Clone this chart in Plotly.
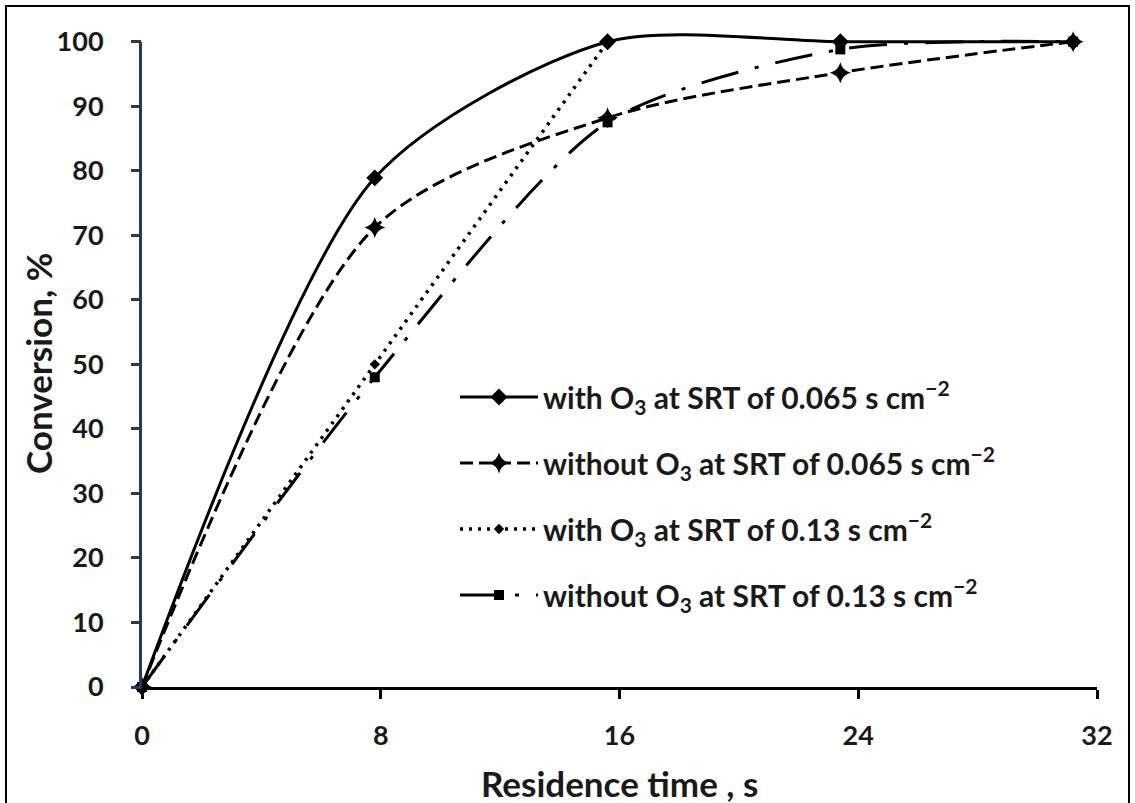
import plotly.graph_objects as go

# ---- data ----
time_s = [0, 7.8, 15.6, 23.4, 31.2]
with_o3_0065 = [0, 78.9, 100, 100, 100]
without_o3_0065 = [0, 71.2, 88.2, 95.2, 100]
with_o3_013 = [0, 50.0, 100]          # later points hidden under the solid line
without_o3_013 = [0, 48.0, 87.5, 98.8, 100]

series_names = [
    "with O<sub>3</sub> at SRT of 0.065 s cm<sup>−2</sup>",
    "without O<sub>3</sub> at SRT of 0.065 s cm<sup>−2</sup>",
    "with O<sub>3</sub> at SRT of 0.13 s cm<sup>−2</sup>",
    "without O<sub>3</sub> at SRT of 0.13 s cm<sup>−2</sup>",
]
x_ticks = [0, 8, 16, 24, 32]
y_ticks = [0, 10, 20, 30, 40, 50, 60, 70, 80, 90, 100]
x_title = "Residence time , s"
y_title = "Conversion, %"

FONT = "Lato"
TXT = "#1a1a1a"
W, H = 1135, 803
ML, MR, MT, MB = 142, 38, 32, 116
Y_MAX = 101.5

styles = [
    dict(dash="solid", width=3, symbol="diamond", size=13, smooth=0.78),
    dict(dash="13px,6px", width=3, symbol="star-diamond", size=15, smooth=0.85),
    dict(dash="3px,6px", width=3.5, symbol="diamond", size=8, smooth=0.8),
    dict(dash="38px,17px,4px,17px", width=3, symbol="square", size=10, smooth=0.75),
]
ys = [with_o3_0065, without_o3_0065, with_o3_013, without_o3_013]

fig = go.Figure()
for i in [3, 2, 1, 0]:
    st = styles[i]
    fig.add_trace(go.Scatter(
        x=time_s[:len(ys[i])], y=ys[i], name=series_names[i],
        mode="lines+markers",
        line=dict(color="black", width=st["width"], dash=st["dash"],
                  shape="spline", smoothing=st["smooth"]),
        marker=dict(symbol=st["symbol"], size=st["size"], color="black"),
        cliponaxis=False,
        legendrank=i + 1,
        legendgroup=f"g{i}",
    ))


def px_x(p):
    return (p - ML) / (W - ML - MR)


def px_y(p):
    return (H - MB - p) / (H - MT - MB)


# border around the whole picture
fig.add_shape(type="rect", xref="paper", yref="paper",
              x0=px_x(6), x1=px_x(1129), y0=px_y(812), y1=px_y(6),
              line=dict(color="black", width=2), layer="below")

# y axis line, ending at the 100 tick
fig.add_shape(type="line", xref="paper", yref="paper",
              x0=px_x(ML - 1.5), x1=px_x(ML - 1.5),
              y0=px_y(H - MB + 1.5), y1=100 / Y_MAX,
              line=dict(color="#27395a", width=3))

# axis titles
fig.add_annotation(text=x_title, xref="paper", yref="paper",
                   x=0.5, y=px_y(783), xanchor="center", yanchor="middle",
                   showarrow=False,
                   font=dict(family=FONT, size=35, color=TXT, weight="bold"))
fig.add_annotation(text=y_title, xref="paper", yref="paper",
                   x=px_x(38), y=px_y(364), xanchor="center", yanchor="middle",
                   textangle=-90, showarrow=False,
                   font=dict(family=FONT, size=35, color=TXT, weight="bold"))

fig.update_layout(
    width=W, height=H,
    margin=dict(l=ML, r=MR, t=MT, b=MB),
    paper_bgcolor="white", plot_bgcolor="white",
    font=dict(family=FONT, size=27, color=TXT, weight="bold"),
    showlegend=True,
    legend=dict(
        x=px_x(455), y=px_y(371), xanchor="left", yanchor="top",
        bgcolor="rgba(0,0,0,0)",
        font=dict(family=FONT, size=30, color=TXT, weight="bold"),
        itemwidth=78, tracegroupgap=24,
        traceorder="grouped",
    ),
    xaxis=dict(
        range=[0, 32], tickvals=x_ticks, ticktext=[str(v) for v in x_ticks],
        showgrid=False, zeroline=False,
        showline=True, linecolor="black", linewidth=3,
        ticks="outside", ticklen=9, tickwidth=3, tickcolor="black",
        ticklabelstandoff=14,
        automargin=False,
    ),
    yaxis=dict(
        range=[0, Y_MAX], tickvals=y_ticks, ticktext=[str(v) for v in y_ticks],
        showgrid=False, zeroline=False,
        showline=False,
        ticks="outside", ticklen=10, tickwidth=3, tickcolor="#27395a",
        ticklabelstandoff=22,
        automargin=False,
    ),
)

fig.write_html("out.html")
